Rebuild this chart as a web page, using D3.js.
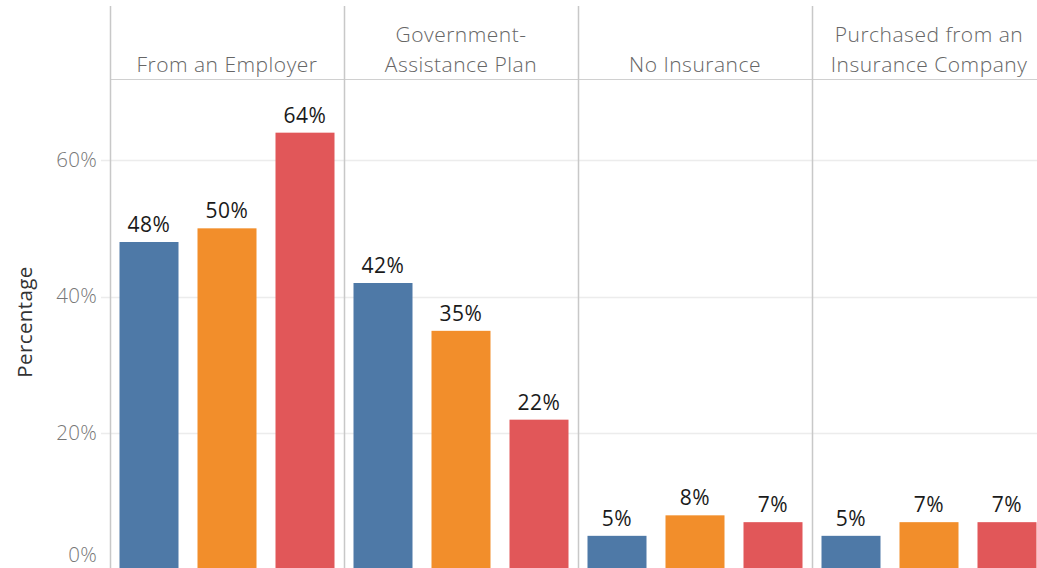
<!DOCTYPE html>
<html>
<head>
<meta charset="utf-8">
<script src="https://cdn.jsdelivr.net/npm/d3@7"></script>
<style>
  html, body { margin: 0; padding: 0; background: #fff; }
  svg { display: block; }
  text { font-family: "Open Sans", Lato, sans-serif; font-weight: 300; }
</style>
</head>
<body>
<svg id="chart" width="1037" height="568"></svg>
<script>
// Insurance source categories (column panes)
const categories = [
  ["From an Employer"],
  ["Government-", "Assistance Plan"],
  ["No Insurance"],
  ["Purchased from an", "Insurance Company"]
];
const categoryKeys = categories.map(c => c.join(" "));

// Three groups shown side by side inside each pane
const groups = ["Group 1", "Group 2", "Group 3"];
const groupColors = ["#4e79a7", "#f28e2b", "#e15759"];

// Share of each group, per category (percent)
const group1Values = [48, 42, 5, 5];
const group2Values = [50, 35, 8, 7];
const group3Values = [64, 22, 7, 7];

const yTicks = [0, 20, 40, 60];

const seriesValues = [group1Values, group2Values, group3Values];
const rows = [];
categoryKeys.forEach((cat, ci) => {
  groups.forEach((g, gi) => {
    rows.push({ cat, group: g, gi, value: seriesValues[gi][ci] });
  });
});

const svg = d3.select("#chart");

const paneLeft = 110, paneWidth = 234;
const headerTop = 6, headerBottom = 79;

const x = d3.scaleBand()
  .domain(categoryKeys)
  .range([paneLeft, paneLeft + paneWidth * categoryKeys.length]);

const xInner = d3.scaleBand()
  .domain(groups)
  .range([0, paneWidth])
  .paddingInner(0.2436)
  .paddingOuter(0.1218);

const y = d3.scaleLinear()
  .domain([0, 60])
  .range([570, 160]);

// Horizontal gridlines
svg.append("g")
  .selectAll("line")
  .data(yTicks.filter(t => t > 0))
  .join("line")
  .attr("x1", 101)
  .attr("x2", 1037)
  .attr("y1", d => Math.round(y(d)) + 0.5)
  .attr("y2", d => Math.round(y(d)) + 0.5)
  .attr("stroke", "#ececec")
  .attr("stroke-width", 1.5);

// Y axis labels
const yAxis = d3.axisLeft(y)
  .tickValues(yTicks)
  .tickSize(0)
  .tickPadding(0)
  .tickFormat(d => d + "%");

const yAxisG = svg.append("g")
  .attr("transform", "translate(97,0)")
  .call(yAxis);
yAxisG.select(".domain").remove();
yAxisG.selectAll(".tick text")
  .attr("fill", "#777")
  .attr("font-size", 20.5)
  .style("font-family", "'Open Sans', Lato, sans-serif")
  .style("font-weight", 300)
  .style("letter-spacing", "0.3px");
// keep the baseline label inside the view
yAxisG.selectAll(".tick")
  .attr("transform", d => `translate(0,${Math.min(y(d), 555)})`);

// Axis title
svg.append("text")
  .attr("transform", "translate(32,322) rotate(-90)")
  .attr("text-anchor", "middle")
  .attr("font-size", 20.5)
  .attr("fill", "#333")
  .style("font-weight", 400)
  .style("letter-spacing", "0.4px")
  .text("Percentage");

// Bars
const panes = svg.append("g")
  .selectAll("g")
  .data(categoryKeys)
  .join("g")
  .attr("transform", d => `translate(${x(d)},0)`);

panes.selectAll("rect")
  .data(cat => rows.filter(r => r.cat === cat))
  .join("rect")
  .attr("x", d => xInner(d.group))
  .attr("width", xInner.bandwidth())
  .attr("y", d => y(d.value))
  .attr("height", d => y(0) - y(d.value))
  .attr("fill", d => groupColors[d.gi]);

// Value labels
panes.selectAll("text.value")
  .data(cat => rows.filter(r => r.cat === cat))
  .join("text")
  .attr("class", "value")
  .attr("x", d => xInner(d.group) + xInner.bandwidth() / 2)
  .attr("y", d => y(d.value) - 10)
  .attr("text-anchor", "middle")
  .attr("font-size", 21)
  .attr("fill", "#1a1a1a")
  .style("font-weight", 400)
  .style("letter-spacing", "0.5px")
  .text(d => d.value + "%");

// Header divider and pane borders
svg.append("line")
  .attr("x1", paneLeft).attr("x2", 1037)
  .attr("y1", headerBottom + 0.5).attr("y2", headerBottom + 0.5)
  .attr("stroke", "#d0d0d0")
  .attr("stroke-width", 1);

svg.append("g")
  .selectAll("line")
  .data(categoryKeys)
  .join("line")
  .attr("x1", d => x(d) + 0.5)
  .attr("x2", d => x(d) + 0.5)
  .attr("y1", headerTop)
  .attr("y2", 568)
  .attr("stroke", "#c8c8c8")
  .attr("stroke-width", 1.5);

// Column headers
const headers = svg.append("g")
  .selectAll("text")
  .data(categories)
  .join("text")
  .attr("text-anchor", "middle")
  .attr("font-size", 21)
  .attr("fill", "#666")
  .style("letter-spacing", "0.5px")
  .attr("x", (d, i) => x(categoryKeys[i]) + paneWidth / 2);

headers.selectAll("tspan")
  .data(d => d.map((line, li) => ({ line, li, n: d.length })))
  .join("tspan")
  .attr("x", function () { return d3.select(this.parentNode).attr("x"); })
  .attr("y", d => 72 - (d.n - 1 - d.li) * 30)
  .text(d => d.line);
</script>
</body>
</html>
